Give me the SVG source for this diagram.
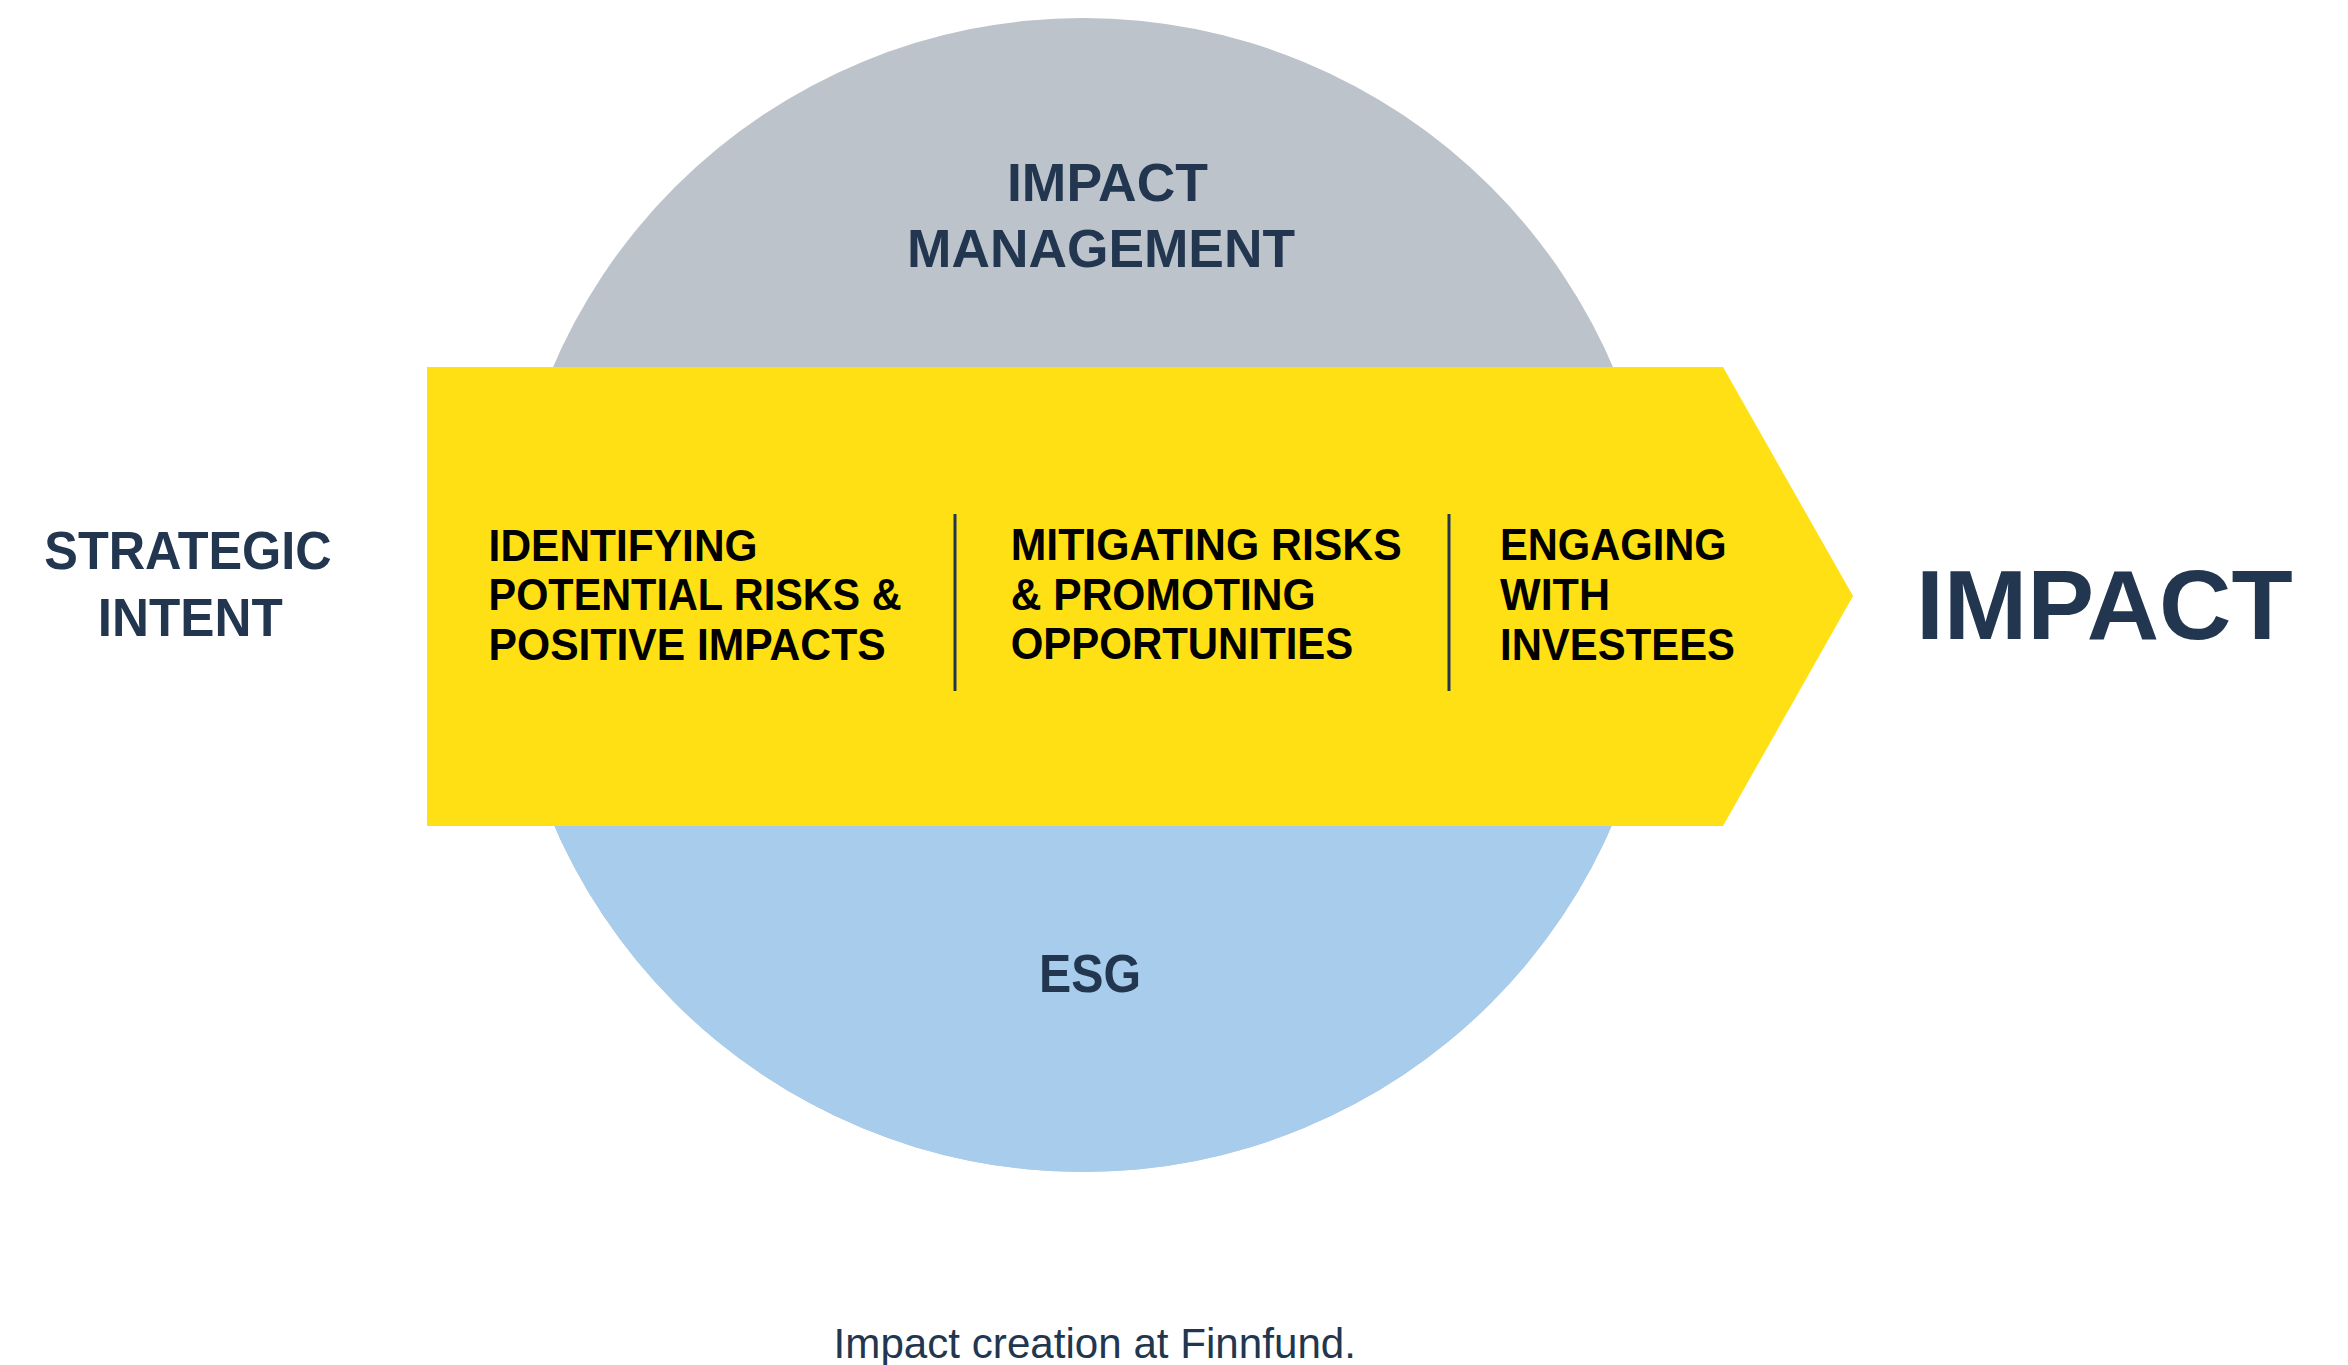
<svg xmlns="http://www.w3.org/2000/svg" width="2348" height="1365" viewBox="0 0 2348 1365">
<style>
.navy{fill:#22374F;font-family:"Liberation Sans",Arial,sans-serif;font-weight:bold}
.blk{fill:#000000;font-family:"Liberation Sans",Arial,sans-serif;font-weight:bold;font-size:44px}
.cap{fill:#22374F;font-family:"Liberation Sans",Arial,sans-serif;font-size:42px}
.div{stroke:#22374F;stroke-width:3}
</style>
<rect width="2348" height="1365" fill="#ffffff"/>
<g id="circle">
<circle cx="1083" cy="595" r="577" fill="#BDC3CB"/>
<path d="M506 595 A577 577 0 0 0 1660 595 Z" fill="#A8CCEC"/>
</g>
<g id="impact-management">
<text class="navy" font-size="53" x="1007" y="200.7" textLength="201" lengthAdjust="spacingAndGlyphs">IMPACT</text>
<text class="navy" font-size="53" x="907" y="267.3" textLength="388" lengthAdjust="spacingAndGlyphs">MANAGEMENT</text>
</g>
<g id="esg">
<text class="navy" font-size="53" x="1039" y="992.3" textLength="102" lengthAdjust="spacingAndGlyphs">ESG</text>
</g>
<g id="arrow">
<polygon points="427,367 1723,367 1853,596 1723,826 427,826" fill="#FFE014"/>
</g>
<g id="connectors">
<line class="div" x1="955" y1="514" x2="955" y2="691"/>
<line class="div" x1="1449" y1="514" x2="1449" y2="691"/>
</g>
<g id="step1">
<text class="blk" x="488.6" y="560.7" textLength="269" lengthAdjust="spacingAndGlyphs">IDENTIFYING</text>
<text class="blk" x="488.6" y="610.4" textLength="413" lengthAdjust="spacingAndGlyphs">POTENTIAL RISKS &amp;</text>
<text class="blk" x="488.6" y="660" textLength="397" lengthAdjust="spacingAndGlyphs">POSITIVE IMPACTS</text>
</g>
<g id="step2">
<text class="blk" x="1010.7" y="560.3" textLength="391" lengthAdjust="spacingAndGlyphs">MITIGATING RISKS</text>
<text class="blk" x="1010.7" y="610" textLength="305" lengthAdjust="spacingAndGlyphs">&amp; PROMOTING</text>
<text class="blk" x="1010.7" y="659" textLength="342.6" lengthAdjust="spacingAndGlyphs">OPPORTUNITIES</text>
</g>
<g id="step3">
<text class="blk" x="1500" y="560.3" textLength="226.7" lengthAdjust="spacingAndGlyphs">ENGAGING</text>
<text class="blk" x="1500" y="610" textLength="110" lengthAdjust="spacingAndGlyphs">WITH</text>
<text class="blk" x="1500" y="660" textLength="235" lengthAdjust="spacingAndGlyphs">INVESTEES</text>
</g>
<g id="strategic-intent">
<text class="navy" font-size="54" x="44.3" y="569.3" textLength="287.4" lengthAdjust="spacingAndGlyphs">STRATEGIC</text>
<text class="navy" font-size="54" x="97.7" y="636" textLength="185" lengthAdjust="spacingAndGlyphs">INTENT</text>
</g>
<g id="impact">
<text class="navy" font-size="99" x="1916" y="639.3" textLength="376.7" lengthAdjust="spacingAndGlyphs">IMPACT</text>
</g>
<g id="caption">
<text class="cap" x="833.6" y="1358.3" textLength="522.4" lengthAdjust="spacingAndGlyphs">Impact creation at Finnfund.</text>
</g>
</svg>
